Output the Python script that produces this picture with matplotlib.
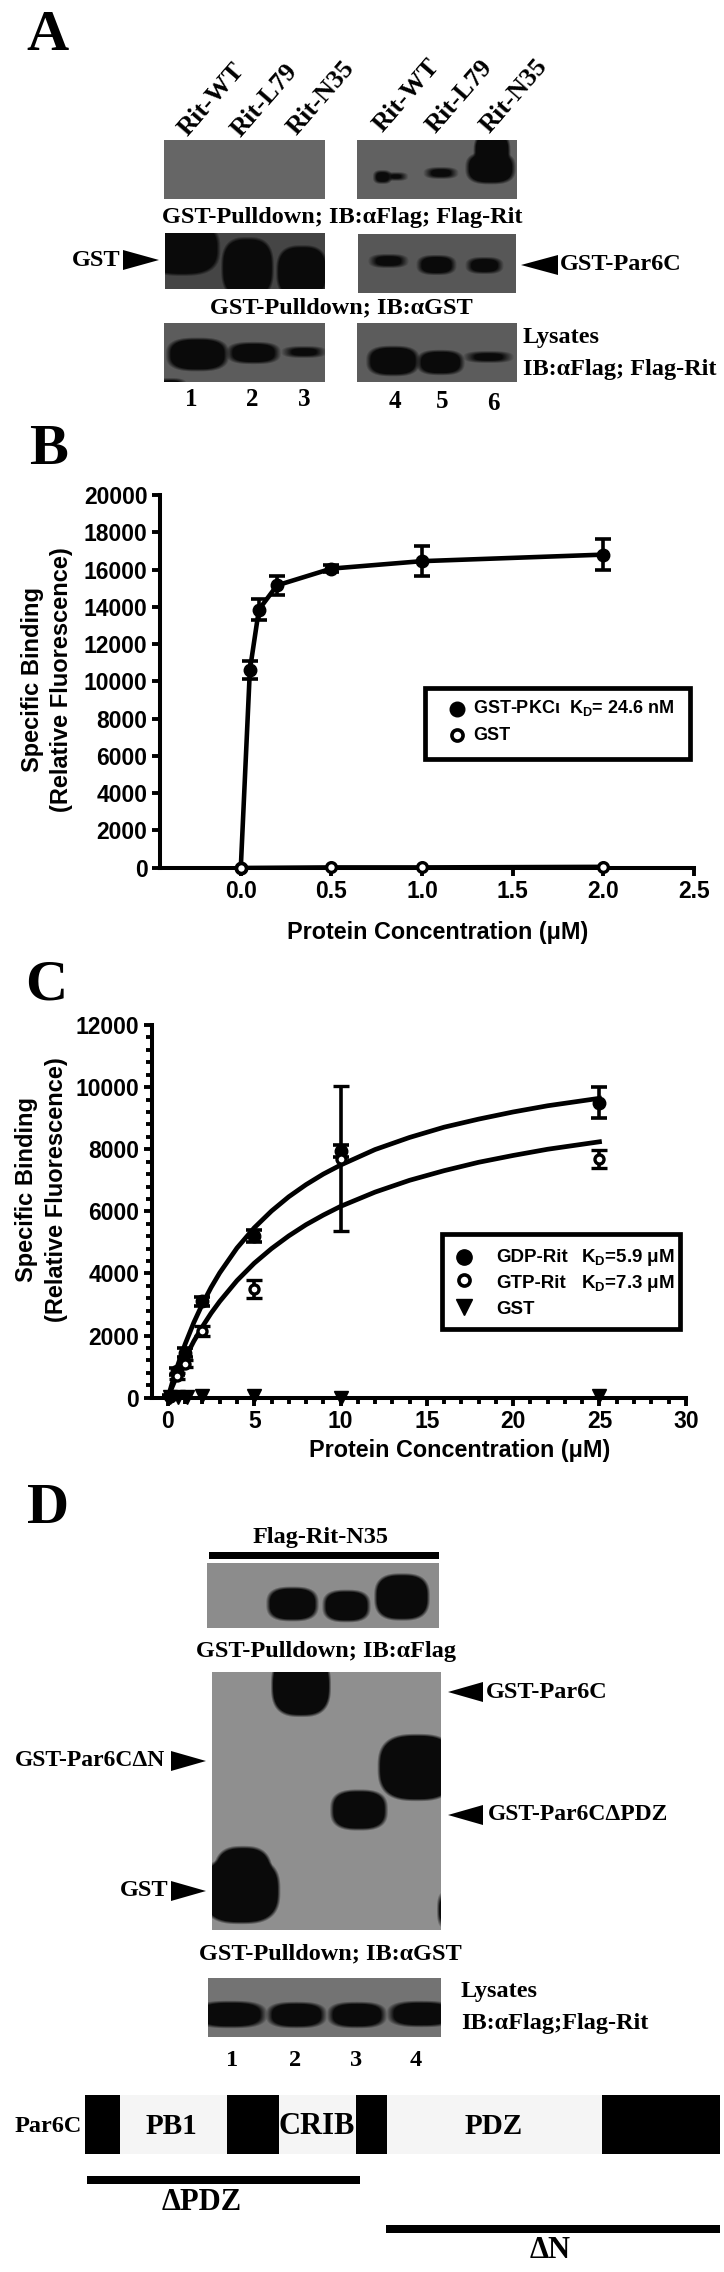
import numpy as np
import matplotlib
matplotlib.use('Agg')
import matplotlib.pyplot as plt
from matplotlib.patches import Polygon, Rectangle
from matplotlib.ticker import MultipleLocator

plt.rcParams['mathtext.fontset'] = 'custom'
plt.rcParams['mathtext.bf'] = 'Liberation Sans:bold'
plt.rcParams['mathtext.rm'] = 'Liberation Sans:bold'

SERIF = 'Liberation Serif'
SANS = 'Liberation Sans'

# panel B values
b_x = [0, 0.05, 0.1, 0.2, 0.5, 1.0, 2.0]
b_pkc = [0, 10600, 13850, 15150, 16050, 16450, 16800]
b_pkc_err = [0, 470, 560, 530, 200, 790, 850]
b_gst_x = [0, 0.5, 1.0, 2.0]
b_gst = [0, 30, 30, 60]
b_xticks = [0.0, 0.5, 1.0, 1.5, 2.0, 2.5]
b_yticks = [0, 2000, 4000, 6000, 8000, 10000, 12000, 14000, 16000, 18000, 20000]

# panel C values
c_x = [0.1, 0.5, 1, 2, 5, 10, 25]
c_gdp = [50, 850, 1450, 3100, 5200, 7950, 9500]
c_gdp_err = [30, 120, 150, 150, 200, 200, 490]
c_gtp = [30, 700, 1100, 2150, 3500, 7700, 7680]
c_gtp_err = [20, 100, 120, 170, 300, 2320, 300]
c_gst_x = [0.1, 0.6, 1.1, 2, 5, 10, 25]
c_gst = [30, 30, 30, 50, 70, 0, 70]
c_fit_x = [0, 0.25, 0.5, 0.75, 1, 1.5, 2, 2.5, 3, 4, 5, 6, 7, 8, 9, 10, 12, 14, 16, 18, 20, 22, 25]
c_fit_gdp = [0, 480, 930, 1340, 1730, 2420, 3020, 3550, 4020, 4820, 5470, 6010, 6470, 6860, 7200,
             7490, 7990, 8380, 8710, 8970, 9200, 9400, 9640]
c_fit_gtp = [0, 350, 680, 990, 1280, 1820, 2290, 2720, 3100, 3770, 4330, 4800, 5210, 5570, 5880,
             6160, 6620, 7000, 7310, 7580, 7800, 8000, 8240]
c_xticks = [0, 5, 10, 15, 20, 25, 30]
c_yticks = [0, 2000, 4000, 6000, 8000, 10000, 12000]

# blots: left, top, right, bottom, background grey, bands (x0, y0, x1, y1)
blots = [
    (164, 140, 325, 199, 0.40, []),
    (357, 140, 517, 199, 0.38, [(373, 170, 392, 184), (384, 172, 408, 181), (424, 167, 458, 179),
                                (474, 132, 510, 172), (466, 152, 515, 184)]),
    (165, 233, 325, 289, 0.27, [(145, 222, 219, 275), (222, 238, 273, 298), (277, 246, 327, 298)]),
    (358, 234, 516, 293, 0.34, [(369, 254, 408, 268), (417, 255, 456, 275), (466, 257, 503, 274)]),
    (164, 323, 325, 382, 0.36, [(167, 338, 228, 371), (227, 342, 280, 364), (282, 346, 326, 358),
                                (155, 378, 186, 390)]),
    (357, 323, 517, 382, 0.36, [(367, 346, 419, 376), (417, 350, 464, 375), (464, 351, 513, 363)]),
    (207, 1563, 439, 1628, 0.55, [(267, 1587, 318, 1621), (323, 1590, 370, 1622), (375, 1574, 429, 1620)]),
    (212, 1672, 441, 1930, 0.56, [(272, 1655, 330, 1716), (379, 1735, 455, 1800), (331, 1790, 387, 1830),
                                  (214, 1847, 272, 1912), (203, 1858, 279, 1923), (437, 1893, 450, 1927)]),
    (208, 1978, 441, 2037, 0.45, [(195, 2001, 266, 2028), (267, 2002, 326, 2028), (328, 2002, 386, 2028),
                                  (388, 2001, 455, 2027)]),
]

# domain map of Par6C
dom_black = [(85, 120), (227, 279), (356, 387), (602, 720)]
dom_light = [(120, 227), (279, 356), (387, 602)]


def gel(x0, y0, x1, y1, bg, bands):
    xx, yy = np.meshgrid(np.arange(x0, x1) + 0.5, np.arange(y0, y1) + 0.5)
    img = np.full(xx.shape, float(bg))
    for a, b, c, d in bands:
        rx, ry = (c - a) / 2, (d - b) / 2
        dist = ((np.abs(xx - (a + c) / 2) / rx) ** 2.8 + (np.abs(yy - (b + d) / 2) / ry) ** 2.8) ** (1 / 2.8)
        alpha = np.clip((1.05 - dist) * min(rx, ry) / 3.0, 0, 1)
        img = img * (1 - alpha) + 0.04 * alpha
    return img


fig = plt.figure(figsize=(7.24, 22.72), dpi=100)
page = fig.add_axes([0, 0, 1, 1])
page.set_xlim(0, 724)
page.set_ylim(2272, 0)
page.axis('off')


def serif(x, y, s, size=17.5, ha='left', **kw):
    page.text(x, y, s, family=SERIF, weight='bold', fontsize=size, ha=ha, va='center', **kw)


def sans(x, y, s, size=11, ha='left', **kw):
    page.text(x, y, s, family=SANS, weight='bold', fontsize=size, ha=ha, va='center', **kw)


def arrow(tip, base, y, half=10):
    page.add_patch(Polygon([(tip, y), (base, y - half), (base, y + half)], color='black', lw=0))


for x0, y0, x1, y1, bg, bands in blots:
    page.imshow(gel(x0, y0, x1, y1, bg, bands), cmap='gray', vmin=0, vmax=1, extent=(x0, x1, y1, y0),
                interpolation='bilinear', aspect='auto')
page.set_xlim(0, 724)
page.set_ylim(2272, 0)

# panel letters
serif(47, 36, 'A', 42, ha='center')
serif(48, 450, 'B', 42, ha='center')
serif(46, 985, 'C', 42, ha='center')
serif(48, 1509, 'D', 42, ha='center')

# panel A text
rit_names = ['Rit-WT', 'Rit-L79', 'Rit-N35', 'Rit-WT', 'Rit-L79', 'Rit-N35']
rit_x = [212, 265, 321, 407, 460, 514]
rit_y = [100, 100, 98, 96, 96, 96]
for x, y, s in zip(rit_x, rit_y, rit_names):
    serif(x, y, s, 19, ha='center', rotation=49, rotation_mode='anchor')
serif(342, 218, 'GST-Pulldown; IB:αFlag; Flag-Rit', 17.5, ha='center')
serif(341, 308, 'GST-Pulldown; IB:αGST', 17.5, ha='center')
serif(72, 260, 'GST', 17.5)
serif(560, 265, 'GST-Par6C', 17.5)
arrow(159, 123, 260)
arrow(521, 558, 265)
serif(523, 338, 'Lysates', 17.5)
serif(523, 370, 'IB:αFlag; Flag-Rit', 17.5)
lane_a = ['1', '2', '3', '4', '5', '6']
lane_ax = [191, 252, 304, 395, 442, 493]
lane_ay = [399, 400, 400, 401, 401, 403]
for x, y, s in zip(lane_ax, lane_ay, lane_a):
    serif(x, y, s, 18, ha='center')

# panel D text
serif(321, 1537, 'Flag-Rit-N35', 17.5, ha='center')
page.add_patch(Rectangle((209, 1552), 230, 7, color='black', lw=0))
serif(326, 1652, 'GST-Pulldown; IB:αFlag', 17.5, ha='center')
serif(330, 1954, 'GST-Pulldown; IB:αGST', 17.5, ha='center')
serif(486, 1692, 'GST-Par6C', 17.5)
serif(15, 1761, 'GST-Par6CΔN', 17)
serif(488, 1815, 'GST-Par6CΔPDZ', 17)
serif(120, 1891, 'GST', 17.5)
arrow(448, 483, 1692)
arrow(206, 171, 1761)
arrow(448, 483, 1815)
arrow(206, 171, 1891)
serif(461, 1992, 'Lysates', 17.5)
serif(461, 2024, 'IB:αFlag;Flag-Rit', 17.5)
lane_d = ['1', '2', '3', '4']
lane_dx = [232, 295, 356, 416]
for x, s in zip(lane_dx, lane_d):
    serif(x, 2060, s, 17.5, ha='center')

# Par6C domain map
for a, b in dom_light:
    page.add_patch(Rectangle((a, 2095), b - a, 59, color='#f5f5f5', lw=0))
for a, b in dom_black:
    page.add_patch(Rectangle((a, 2095), b - a, 59, color='black', lw=0))
serif(48, 2126, 'Par6C', 17.5, ha='center')
serif(171, 2126, 'PB1', 21, ha='center')
serif(317, 2126, 'CRIB', 22, ha='center')
serif(494, 2126, 'PDZ', 21, ha='center')
page.add_patch(Rectangle((87, 2176), 273, 8, color='black', lw=0))
page.add_patch(Rectangle((386, 2225), 334, 8, color='black', lw=0))
serif(202, 2202, 'ΔPDZ', 22, ha='center')
serif(550, 2251, 'ΔN', 22, ha='center')


def chart_axes(left, right, top, bottom):
    ax = fig.add_axes([left / 724, 1 - bottom / 2272, (right - left) / 724, (bottom - top) / 2272])
    ax.patch.set_alpha(0)
    ax.spines['top'].set_visible(False)
    ax.spines['right'].set_visible(False)
    ax.spines['left'].set_linewidth(2.9)
    ax.spines['bottom'].set_linewidth(2.9)
    ax.tick_params(which='major', width=2.8, length=6, pad=3)
    return ax


# panel B
ax_b = chart_axes(160, 693.7, 495, 867.7)
ax_b.set_xlim(-0.446, 2.5)
ax_b.set_ylim(0, 20000)
ax_b.errorbar(b_x, b_pkc, yerr=b_pkc_err, color='black', lw=3.3, marker='o', ms=9, capsize=5.5,
              capthick=2.6, elinewidth=2.6, clip_on=False, zorder=5)
ax_b.plot(b_gst_x, b_gst, color='black', lw=2.9, marker='o', ms=7, mfc='white', mew=2.4,
          clip_on=False, zorder=6)
ax_b.set_xticks(b_xticks)
ax_b.set_yticks(b_yticks)
ax_b.set_xticklabels(['%.1f' % v for v in b_xticks], family=SANS, weight='bold', fontsize=16.5)
ax_b.set_yticklabels([str(v) for v in b_yticks], family=SANS, weight='bold', fontsize=16.5)

sans(33, 680, 'Specific Binding', 17, ha='center', rotation=90, rotation_mode='anchor')
sans(62, 680, '(Relative Fluorescence)', 17, ha='center', rotation=90, rotation_mode='anchor')
sans(438, 933, 'Protein Concentration (μM)', 16.8, ha='center')

page.add_patch(Rectangle((425, 688), 265, 71, fc='white', ec='black', lw=3.4, zorder=8))
page.plot([457], [709], 'o', color='black', ms=10.5, zorder=9)
page.plot([457], [735], 'o', color='black', mfc='white', ms=8, mew=2.6, zorder=9)
sans(473, 708, 'GST-PKCι  K$_{\\mathbf{D}}$= 24.6 nM', 13, zorder=9)
sans(473, 735, 'GST', 13, zorder=9)

# panel C
ax_c = chart_axes(151.7, 685.8, 1025, 1397.7)
ax_c.set_xlim(-0.94, 30)
ax_c.set_ylim(0, 12000)
ax_c.plot(c_fit_x, c_fit_gdp, color='black', lw=3.4, zorder=4)
ax_c.plot(c_fit_x, c_fit_gtp, color='black', lw=3.4, zorder=4)
ax_c.errorbar(c_x, c_gdp, yerr=c_gdp_err, color='black', ls='none', marker='o', ms=9, capsize=5.5,
              capthick=2.6, elinewidth=2.6, clip_on=False, zorder=5)
ax_c.errorbar(c_x, c_gtp, yerr=c_gtp_err, color='black', ls='none', marker='o', ms=6.5, mfc='white',
              mew=2.4, capsize=5.5, capthick=2.6, elinewidth=2.6, clip_on=False, zorder=6)
ax_c.plot(c_gst_x, c_gst, color='black', ls='none', marker='v', ms=9.5, clip_on=False, zorder=7)
ax_c.set_xticks(c_xticks)
ax_c.set_yticks(c_yticks)
ax_c.set_xticklabels([str(v) for v in c_xticks], family=SANS, weight='bold', fontsize=16.5)
ax_c.set_yticklabels([str(v) for v in c_yticks], family=SANS, weight='bold', fontsize=16.5)
ax_c.xaxis.set_minor_locator(MultipleLocator(1))
ax_c.yaxis.set_minor_locator(MultipleLocator(400))
ax_c.xaxis.set_tick_params(which='minor', bottom=True, width=2.8, length=4.5, color='black')
ax_c.yaxis.set_tick_params(which='minor', left=True, width=2.8, length=4.5, color='black')

sans(27, 1190, 'Specific Binding', 17, ha='center', rotation=90, rotation_mode='anchor')
sans(56, 1190, '(Relative Fluorescence)', 17, ha='center', rotation=90, rotation_mode='anchor')
sans(460, 1450, 'Protein Concentration (μM)', 16.8, ha='center')

page.add_patch(Rectangle((442, 1234), 238, 95, fc='white', ec='black', lw=3.4, zorder=8))
page.plot([464], [1257], 'o', color='black', ms=11, zorder=9)
page.plot([464], [1280], 'o', color='black', mfc='white', ms=8, mew=2.6, zorder=9)
page.plot([464], [1307], 'v', color='black', ms=11.5, zorder=9)
sans(496, 1257, 'GDP-Rit', 13.5, zorder=9)
sans(496, 1284, 'GTP-Rit', 13.5, zorder=9)
sans(496, 1310, 'GST', 13.5, zorder=9)
sans(581, 1257, 'K$_{\\mathbf{D}}$=5.9 μM', 13.5, zorder=9)
sans(581, 1284, 'K$_{\\mathbf{D}}$=7.3 μM', 13.5, zorder=9)

# page axes go above the charts so the legend boxes cover the curves
page.set_zorder(3)
page.patch.set_alpha(0)

fig.savefig('out.png', dpi=100)
